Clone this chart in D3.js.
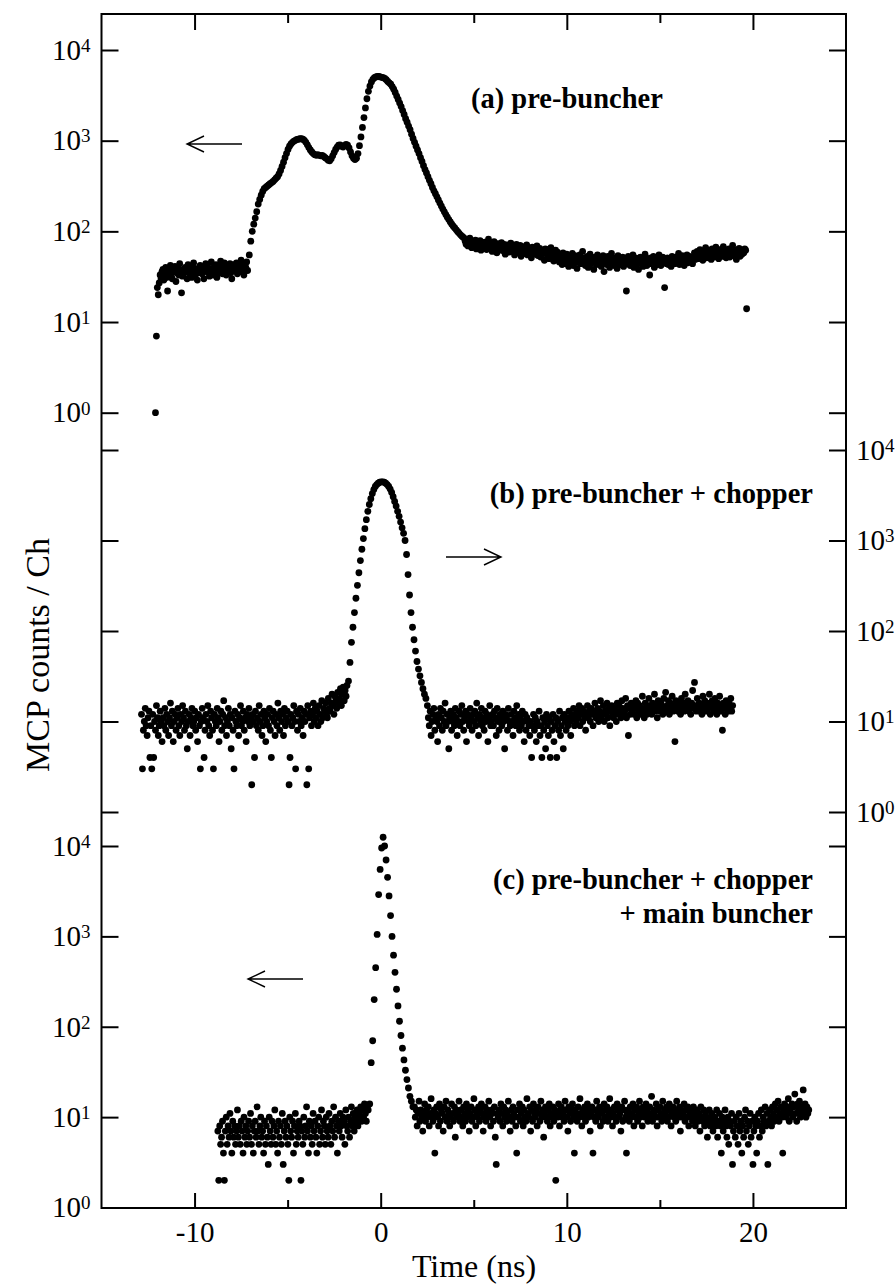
<!DOCTYPE html>
<html>
<head>
<meta charset="utf-8">
<script src="https://cdn.jsdelivr.net/npm/d3@7"></script>
<style>
  body { margin: 0; background: #fff; }
  text { font-family: "Liberation Serif", "Times New Roman", serif; fill: #000; }
</style>
</head>
<body>
<svg id="chart"></svg>
<script>
// MCP counts per channel.
// Each panel is stored as a few runs of evenly spaced channels (start time, end time, counts).
const panelTitles = [["(a) pre-buncher"], ["(b) pre-buncher + chopper"], ["(c) pre-buncher + chopper", "+ main buncher"]];
const timeTicks = [-10, 0, 10, 20];
const timeMinorTicks = [-5, 5, 15];
const countTicks = [1, 10, 100, 1000, 10000];

// (a) pre-buncher
const timesA = [[-12.1, -7.15], [-7.06, 4.46], [4.54, 19.66]];
const countsAFlat = [
  1,7,24,20,27,33,30,36,38,29,34,40,31,22,35,37,42,33,30,38,36,41,28,35,39,33,44,37,21,32,
  38,35,40,36,30,43,39,34,37,31,41,45,36,33,38,29,35,40,42,37,34,39,30,36,44,38,41,35,32,37,
  46,39,33,40,36,43,31,38,35,42,47,37,34,40,45,38,33,36,41,39,44,35,30,38,43,40,37,45,34,41,
  39,36,48,42,38,33,44,40,46,37
];
const countsAPeak = [
  55,78,100,120,140,165,200,225,250,275,295,305,315,325,335,345,355,370,385,400,430,470,520,580,
  650,720,800,870,920,960,990,1010,1030,1040,1050,1050,1040,1010,960,900,840,790,750,720,700,690,
  700,690,680,690,670,650,630,610,600,630,680,740,800,850,890,900,870,850,880,910,890,830,750,680,
  640,620,640,720,880,1100,1400,1800,2300,2900,3500,4000,4450,4750,4950,5050,5100,5100,5050,5000,
  4950,4850,4700,4500,4350,4200,3950,3700,3400,3100,2850,2600,2380,2150,1950,1750,1600,1450,1320,
  1180,1060,960,870,790,720,650,590,530,480,440,400,365,335,305,280,260,240,222,205,190,176,164,
  153,143,135,127,120,114,109,104,99,95,91,88,85
];
const countsATail = [
  78,72,81,69,74,84,70,66,77,73,68,80,64,71,75,67,79,62,70,73,66,76,69,63,72,82,65,68,74,60,
  71,77,64,69,58,73,66,70,62,75,67,61,72,56,68,64,71,59,66,74,63,60,69,55,67,72,62,58,65,70,
  53,63,68,60,57,66,71,55,62,59,64,51,67,61,56,63,58,69,54,60,65,52,62,57,61,48,64,59,55,63,
  50,58,66,54,60,47,57,62,53,59,
  52,46,55,49,43,58,47,51,44,56,50,41,53,48,45,57,42,50,54,46,39,52,48,55,44,49,60,45,51,42,
  47,53,40,49,56,44,50,46,38,52,47,43,55,49,45,51,41,48,54,36,46,50,43,53,47,40,49,57,44,48,
  42,51,46,39,54,45,50,43,47,52,41,49,44,22,48,53,46,42,50,45,55,40,47,51,43,49,38,46,52,44,
  48,41,50,56,45,42,49,47,33,51,44,46,53,40,48,50,43,47,55,45,42,49,52,46,24,48,44,51,43,47,
  50,41,53,46,49,44,52,48,45,57,43,50,47,54,46,42,51,49,55,45,48,53,47,50,44,52,58,49,
  54,60,50,57,63,52,58,48,61,55,66,51,57,62,53,59,49,64,56,52,60,67,54,58,50,63,57,61,53,68,
  55,59,51,62,57,64,52,60,56,70,54,61,58,49,63,57,65,53,60,56,62,58,64,62,14
];

// (b) pre-buncher + chopper
const timesB = [[-12.85, -1.81], [-1.73, 2.43], [2.51, 18.91]];
const countsBLeft = [
  12,3,8,10,14,9,7,11,13,4,9,3,12,4,10,8,15,11,7,9,13,10,6,11,9,14,8,12,10,7,
  11,16,9,13,6,10,12,8,11,14,9,7,12,10,15,11,8,13,9,5,10,12,7,11,14,9,10,13,8,11,
  6,12,9,3,10,14,11,4,8,12,10,15,9,7,13,11,8,3,12,10,9,14,11,6,10,13,8,12,17,9,
  11,7,10,14,9,12,5,11,8,3,13,10,9,12,7,11,15,9,10,13,8,11,6,12,10,14,9,11,2,12,
  10,4,13,9,11,8,15,10,12,7,9,13,11,6,10,12,9,14,8,4,11,13,10,7,12,9,16,11,8,13,
  10,12,7,14,9,11,13,10,2,4,12,9,11,15,10,3,13,8,12,10,14,9,11,7,13,10,12,2,15,3,
  11,13,9,12,16,10,14,11,13,9,15,12,10,17,11,14,13,16,12,11,18,14,13,16,20,15,12,19,17,14,
  21,16,18,23,15,20,24,17,22,19,25
];
const countsBPeak = [
  28,45,75,110,160,230,320,440,600,800,1050,1350,1700,2100,2500,2900,3300,3650,3950,4150,4300,4400,
  4450,4450,4400,4300,4150,3950,3700,3400,3050,2700,2400,2100,1850,1600,1380,1200,1000,700,420,250,
  160,110,80,60,46,38,32,27,23,20,18
];
const countsBRight = [
  15,11,9,13,7,10,12,14,8,11,10,6,12,9,14,11,8,13,10,16,9,12,10,5,11,13,8,10,12,9,
  14,11,7,10,13,9,12,15,10,8,11,13,6,12,10,9,14,11,8,12,10,13,9,16,11,7,12,10,14,9,
  11,8,13,10,12,6,11,15,9,10,12,9,13,11,7,14,10,8,12,11,9,13,10,5,12,11,8,14,10,9,
  12,10,7,13,11,9,15,10,12,8,11,9,13,10,6,12,8,11,10,9,7,10,4,9,12,8,11,6,10,9,
  13,7,9,4,11,8,10,5,12,9,7,11,4,10,8,12,6,9,11,4,10,8,13,7,9,11,5,12,10,8,
  11,9,13,10,7,12,11,14,9,12,10,13,11,15,9,12,14,10,13,11,8,12,15,11,13,10,14,12,9,13,
  16,11,12,14,10,13,17,11,12,15,10,13,12,16,11,14,9,13,15,12,11,14,13,10,16,12,15,13,11,17,
  14,12,13,18,11,15,7,14,12,16,13,15,12,14,17,11,16,13,15,12,14,19,13,11,16,14,12,15,18,13,
  15,12,16,14,20,13,15,11,17,14,13,16,15,12,18,14,21,13,15,17,12,16,14,19,13,15,6,17,14,13,
  16,15,12,18,14,16,13,20,15,14,17,13,15,12,16,22,14,27,15,13,18,14,16,13,15,12,19,14,17,15,
  13,16,14,20,12,15,17,14,13,18,15,12,16,14,19,13,15,8,16,14,12,17,15,13,16,14,18,13,15
];

// (c) pre-buncher + chopper + main buncher
const timesC = [[-8.75, -0.67], [-0.59, 1.73], [1.81, 23.0]];
const countsCLeft = [
  7,2,8,5,6,9,4,2,7,10,5,8,6,11,7,4,9,6,8,5,7,12,6,8,5,9,7,4,10,6,
  8,5,7,9,6,11,5,8,4,7,9,6,13,7,5,8,10,6,7,4,9,5,8,6,3,10,7,5,9,6,
  8,12,5,7,4,9,6,8,5,11,3,7,9,6,8,5,2,10,7,6,9,4,8,11,5,7,6,9,8,2,
  7,5,10,6,8,13,7,4,9,6,8,5,11,7,9,6,4,8,10,5,7,12,6,9,8,5,10,7,6,11,
  8,5,9,7,13,6,10,8,4,9,7,11,8,6,10,9,5,12,8,7,10,6,9,13,8,11,7,10,9,12,
  8,11,10,13,9,12,10,14,11,9,13,12
];
const countsCPeak = [
  14,40,70,200,450,1050,2900,5500,9500,12500,10000,7000,4500,2800,1700,1000,620,400,260,170,115,80,
  58,43,33,26,21,17,15,13
];
const countsCRight = [
  13,10,12,8,11,15,9,12,10,7,11,14,9,12,10,13,8,11,16,10,9,12,4,11,13,10,8,14,9,12,
  11,7,13,10,15,9,12,11,8,10,14,11,9,13,6,12,10,11,15,9,12,10,8,13,11,9,14,10,12,7,
  11,13,9,10,16,12,8,11,10,13,9,12,14,11,7,10,13,9,12,11,15,10,8,12,11,9,13,6,3,11,
  10,12,9,14,11,8,13,10,12,9,11,15,10,7,12,9,13,11,10,8,4,12,10,14,9,11,13,8,12,10,
  9,16,11,10,13,7,12,9,14,11,10,12,8,13,11,9,15,10,12,6,11,13,10,9,12,14,8,11,10,13,
  9,12,2,11,10,14,8,12,13,10,11,9,15,12,10,7,13,11,9,12,14,10,4,12,11,9,13,10,16,11,
  8,12,10,13,9,11,14,10,12,7,11,13,4,10,12,9,15,11,10,13,8,12,11,9,14,10,12,13,9,11,
  16,10,12,8,11,13,10,9,14,12,10,11,7,13,9,12,15,10,4,11,12,9,13,10,11,14,8,12,10,13,
  9,11,15,10,12,8,13,11,10,14,12,9,11,13,10,17,9,12,11,10,14,8,12,10,13,11,9,15,10,12,
  11,13,9,10,14,12,8,11,13,10,12,9,15,11,10,13,7,12,10,11,14,9,12,10,13,8,11,10,12,9,
  13,11,8,10,12,9,11,7,13,10,9,12,8,11,10,6,9,12,8,10,11,7,9,10,8,12,6,9,11,8,
  4,10,7,9,12,8,6,10,5,9,8,11,3,7,9,6,10,8,5,11,7,9,4,8,6,10,12,7,9,5,
  8,11,6,9,3,7,10,8,4,9,11,6,8,12,7,10,9,13,8,11,3,9,12,10,8,13,11,9,14,10,
  12,15,9,11,13,10,4,12,14,11,10,13,16,9,12,11,14,10,13,18,11,9,14,12,15,10,13,11,20,12,
  14,10,13,11,12
];

const panelData = [
  [[timesA[0], countsAFlat], [timesA[1], countsAPeak], [timesA[2], countsATail]],
  [[timesB[0], countsBLeft], [timesB[1], countsBPeak], [timesB[2], countsBRight]],
  [[timesC[0], countsCLeft], [timesC[1], countsCPeak], [timesC[2], countsCRight]]
];

// ---- layout
const W = 896, H = 1287;
const frame = {left: 101.5, right: 846, top: 14, bottom: 1208};
// pixel rows of 10^0 and 10^4 for each stacked panel
const panelRows = [[412.7, 50], [812, 450], [1207.5, 846]];
const labelSide = ["left", "right", "left"];

const svg = d3.select("#chart").attr("width", W).attr("height", H);

const x = d3.scaleLinear().domain([-15, 25]).range([frame.left, frame.right]);
const yScales = panelRows.map(r => d3.scaleLog().domain([1, 1e4]).range(r));

// points
panelData.forEach((runs, p) => {
  const pts = [];
  runs.forEach(([[t0, t1], counts]) => {
    const dt = (t1 - t0) / (counts.length - 1);
    counts.forEach((c, i) => pts.push({t: t0 + i * dt, c}));
  });
  svg.append("g").attr("class", "panel")
    .selectAll("circle")
    .data(pts)
    .join("circle")
      .attr("cx", d => x(d.t))
      .attr("cy", d => yScales[p](d.c))
      .attr("r", 3.4)
      .attr("fill", "#000");
});

// superscript decade labels
function decadeLabel(sel) {
  sel.each(function(d) {
    const t = d3.select(this);
    t.text("");
    t.append("tspan").text("10");
    t.append("tspan").attr("dy", "-0.42em").attr("font-size", "19px").text(Math.round(Math.log10(d)));
  });
}

// y axes on both sides, ticks inward
yScales.forEach((y, p) => {
  const leftAxis = svg.append("g")
    .attr("transform", `translate(${frame.left},0)`)
    .call(d3.axisLeft(y).tickValues(countTicks).tickSize(-17).tickPadding(11).tickFormat(""));
  const rightAxis = svg.append("g")
    .attr("transform", `translate(${frame.right},0)`)
    .call(d3.axisRight(y).tickValues(countTicks).tickSize(-17).tickPadding(10).tickFormat(""));
  [leftAxis, rightAxis].forEach(g => {
    g.select(".domain").remove();
    g.selectAll(".tick line").attr("stroke", "#000").attr("stroke-width", 2);
    g.selectAll(".tick text").attr("font-size", "29px").attr("font-family", null);
  });
  const labelled = labelSide[p] === "left" ? leftAxis : rightAxis;
  labelled.selectAll(".tick text").call(decadeLabel);
});

// time axes, bottom and top
const axisBottomG = svg.append("g").attr("transform", `translate(0,${frame.bottom})`)
  .call(d3.axisBottom(x).tickValues(timeTicks).tickSize(-15).tickPadding(13));
const axisBottomMinorG = svg.append("g").attr("transform", `translate(0,${frame.bottom})`)
  .call(d3.axisBottom(x).tickValues(timeMinorTicks).tickSize(-8).tickFormat(""));
const axisTopG = svg.append("g").attr("transform", `translate(0,${frame.top})`)
  .call(d3.axisTop(x).tickValues(timeTicks).tickSize(-16).tickFormat(""));
const axisTopMinorG = svg.append("g").attr("transform", `translate(0,${frame.top})`)
  .call(d3.axisTop(x).tickValues(timeMinorTicks).tickSize(-9).tickFormat(""));
[axisBottomG, axisBottomMinorG, axisTopG, axisTopMinorG].forEach(g => {
  g.select(".domain").remove();
  g.selectAll(".tick line").attr("stroke", "#000").attr("stroke-width", 2);
});
axisBottomG.selectAll(".tick text").attr("font-size", "29px").attr("font-family", null)
  .text(d => d < 0 ? "-" + Math.abs(d) : d);

// frame
svg.append("rect")
  .attr("x", frame.left).attr("y", frame.top)
  .attr("width", frame.right - frame.left).attr("height", frame.bottom - frame.top)
  .attr("fill", "none").attr("stroke", "#000").attr("stroke-width", 2);

// axis titles
svg.append("text")
  .attr("x", 474).attr("y", 1277)
  .attr("text-anchor", "middle").attr("font-size", "32px")
  .text("Time (ns)");
svg.append("text")
  .attr("transform", "translate(49,655) rotate(-90)")
  .attr("text-anchor", "middle").attr("font-size", "34px")
  .text("MCP counts / Ch");

// panel titles
const titlePos = [{x: 471, y: 108, anchor: "start"}, {x: 813, y: 503, anchor: "end"}, {x: 813, y: 889, anchor: "end"}];
panelTitles.forEach((lines, p) => {
  lines.forEach((line, k) => {
    svg.append("text")
      .attr("x", titlePos[p].x).attr("y", titlePos[p].y + k * 34)
      .attr("text-anchor", titlePos[p].anchor)
      .attr("font-size", "28.5px").attr("font-weight", "bold")
      .text(line);
  });
});

// arrows pointing to the axis that carries each panel's labels
const arrows = [{x0: 242, x1: 187, y: 144}, {x0: 446, x1: 501, y: 557}, {x0: 303, x1: 248, y: 979}];
arrows.forEach(a => {
  const dir = Math.sign(a.x0 - a.x1);
  svg.append("path")
    .attr("d", `M${a.x0},${a.y}H${a.x1}M${a.x1 + dir * 17},${a.y - 8}L${a.x1},${a.y}L${a.x1 + dir * 17},${a.y + 8}`)
    .attr("fill", "none").attr("stroke", "#000").attr("stroke-width", 1.4);
});
</script>
</body>
</html>
